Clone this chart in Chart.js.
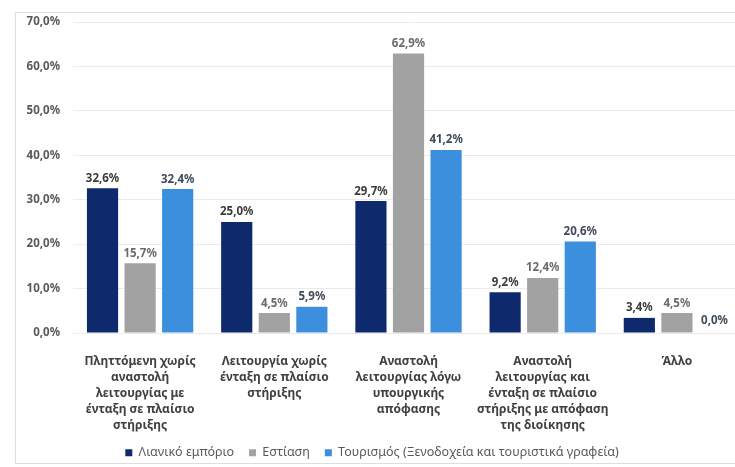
<!DOCTYPE html>
<html>
<head>
<meta charset="utf-8">
<script src="https://cdn.jsdelivr.net/npm/chart.js@4.4.1/dist/chart.umd.min.js"></script>
<style>
  html, body { margin: 0; padding: 0; background: #fff; overflow: hidden; }
  #wrap { width: 746px; height: 467px; position: relative; }
</style>
</head>
<body>
<div id="wrap"><canvas id="grafica"></canvas></div>
<script>
// categorias (etiquetas del eje x, en varias lineas)
const categorias = [
    ["Πληττόμενη χωρίς", "αναστολή", "λειτουργίας με", "ένταξη σε πλαίσιο", "στήριξης"],
    ["Λειτουργία χωρίς", "ένταξη σε πλαίσιο", "στήριξης"],
    ["Αναστολή", "λειτουργίας λόγω", "υπουργικής", "απόφασης"],
    ["Αναστολή", "λειτουργίας και", "ένταξη σε πλαίσιο", "στήριξης με απόφαση", "της διοίκησης"],
    ["Άλλο"]
];

const series = ["Λιανικό εμπόριο", "Εστίαση", "Τουρισμός (Ξενοδοχεία και τουριστικά γραφεία)"];

const lianiko = [32.6, 25.0, 29.7, 9.2, 3.4];
const estiasi = [15.7, 4.5, 62.9, 12.4, 4.5];
const tourismos = [32.4, 5.9, 41.2, 20.6, 0.0];

const yTicks = [0, 10, 20, 30, 40, 50, 60, 70];

const colores = ['#0f2a6c', '#a2a2a2', '#3b8fdc'];
const coloresEtiqueta = ['#3a3a3a', '#6b6b6b', '#3f4a5a'];

// el eje x recorta sus etiquetas a su propia altura, por eso la leyenda va con poco padding
const PAD_LEYENDA = 15;
const FUENTE_LEYENDA = 12.5;

function formato(v) {
    return v.toFixed(1).replace('.', ',') + '%';
}

// etiquetas encima de cada barra
const etiquetas = {
    id: 'etiquetas',
    afterDatasetsDraw: function(chart) {
        let ctx = chart.ctx;
        ctx.save();
        ctx.font = 'bold 11.5px "Noto Sans", sans-serif';
        ctx.textAlign = 'center';
        ctx.textBaseline = 'bottom';
        chart.data.datasets.forEach(function(ds, i) {
            let meta = chart.getDatasetMeta(i);
            meta.data.forEach(function(bar, j) {
                ctx.fillStyle = coloresEtiqueta[i];
                let v = ds.data[j];
                ctx.fillText(formato(v), bar.x, bar.y - (v === 0 ? 7 : 4));
            });
        });
        ctx.restore();
    }
};

// marco exterior
const marco = {
    id: 'marco',
    beforeDraw: function(chart) {
        let ctx = chart.ctx;
        ctx.save();
        ctx.strokeStyle = '#dedede';
        ctx.lineWidth = 1;
        ctx.strokeRect(15.5, 12.5, 740, 451);
        ctx.restore();
    }
};

const data = {
    labels: categorias,
    datasets: [
        { label: series[0], data: lianiko, backgroundColor: colores[0] },
        { label: series[1], data: estiasi, backgroundColor: colores[1] },
        { label: series[2], data: tourismos, backgroundColor: colores[2] }
    ]
};

new Chart(document.getElementById('grafica'), {
    type: 'bar',
    data: data,
    plugins: [marco, etiquetas],
    options: {
        responsive: true,
        maintainAspectRatio: false,
        animation: false,
        datasets: {
            bar: { categoryPercentage: 0.84, barPercentage: 0.83 }
        },
        layout: {
            padding: { top: 22, right: 2, bottom: -2, left: 0 }
        },
        plugins: {
            legend: {
                position: 'bottom',
                labels: {
                    boxWidth: 7,
                    boxHeight: 7,
                    padding: PAD_LEYENDA,
                    color: '#595959',
                    font: { family: '"Noto Sans", sans-serif', size: FUENTE_LEYENDA }
                }
            },
            tooltip: { enabled: false }
        },
        scales: {
            x: {
                grid: { display: false },
                border: { display: false },
                ticks: {
                    color: '#404040',
                    padding: 12,
                    maxRotation: 0,
                    autoSkip: false,
                    font: { family: '"Noto Sans", sans-serif', size: 12, weight: 'bold', lineHeight: 1.35 }
                },
                afterFit: function(s) { s.height = 469 - 333 - (PAD_LEYENDA + FUENTE_LEYENDA + 10); }
            },
            y: {
                min: 0,
                max: 70,
                grid: { color: '#ebebeb', drawTicks: false },
                border: { display: false },
                afterBuildTicks: function(s) {
                    s.ticks = yTicks.map(function(v) { return { value: v }; });
                },
                ticks: {
                    color: '#595959',
                    padding: 13,
                    font: { family: '"Noto Sans", sans-serif', size: 11.5, weight: 'bold' },
                    callback: function(v) { return formato(v); }
                },
                afterFit: function(s) { s.width = 73; }
            }
        }
    }
});
</script>
</body>
</html>
